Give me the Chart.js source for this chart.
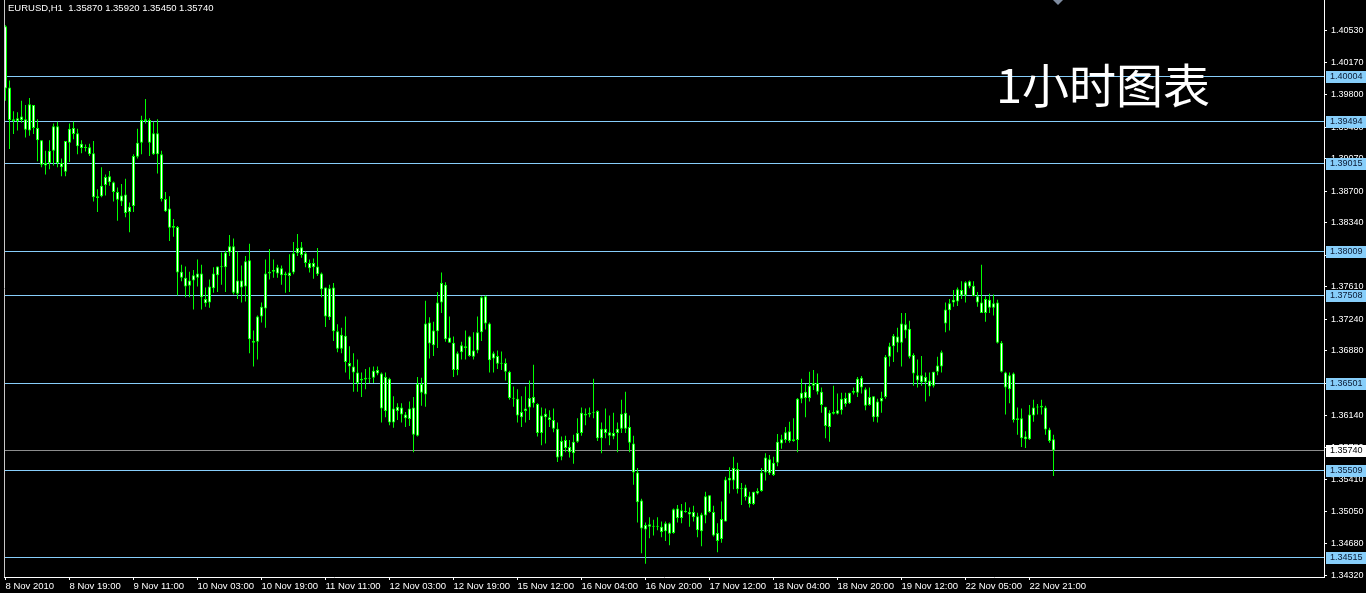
<!DOCTYPE html>
<html>
<head>
<meta charset="utf-8">
<script src="https://cdn.jsdelivr.net/npm/chart.js@4.4.1/dist/chart.umd.min.js"></script>
<style>
html,body{margin:0;padding:0;background:#000;overflow:hidden}
#wrap{width:1366px;height:593px}
canvas{display:block}
</style>
</head>
<body>
<div id="wrap"><canvas id="c" width="1366" height="593"></canvas></div>
<script>
// ---------- data (EURUSD H1) ----------
const symbolTitle = 'EURUSD,H1';
const watermarkText = '1小时图表';

const openP = [
1.4058,1.3988,1.3952,1.3950,1.3955,1.3952,1.3939,1.3968,1.3942,1.3928,
1.3899,1.3902,1.3916,1.3944,1.3902,1.3892,1.3925,1.3942,1.3936,1.3924,
1.3919,1.3920,1.3913,1.3864,1.3864,1.3877,1.3887,1.3880,1.3869,1.3858,
1.3866,1.3846,1.3853,1.3909,1.3925,1.3950,1.3951,1.3912,1.3936,1.3912,
1.3861,1.3850,1.3828,1.3829,1.3778,1.3771,1.3762,1.3768,1.3771,1.3776,
1.3747,1.3743,1.3759,1.3774,1.3784,1.3783,1.3800,1.3807,1.3753,1.3768,
1.3761,1.3791,1.3699,1.3698,1.3727,1.3736,1.3776,1.3778,1.3776,1.3782,
1.3774,1.3773,1.3777,1.3799,1.3806,1.3799,1.3788,1.3783,1.3784,1.3776,
1.3760,1.3726,1.3760,1.3710,1.3690,1.3705,1.3674,1.3670,1.3663,1.3654,
1.3655,1.3656,1.3657,1.3666,1.3662,1.3619,1.3656,1.3606,1.3624,1.3623,
1.3615,1.3610,1.3623,1.3591,1.3650,1.3638,1.3720,1.3694,1.3710,1.3743,
1.3763,1.3703,1.3697,1.3666,1.3686,1.3693,1.3682,1.3688,1.3688,1.3709,
1.3750,1.3719,1.3679,1.3682,1.3674,1.3674,1.3664,1.3634,1.3633,1.3612,
1.3619,1.3623,1.3635,1.3627,1.3594,1.3612,1.3612,1.3609,1.3599,1.3567,
1.3586,1.3578,1.3571,1.3584,1.3594,1.3616,1.3615,1.3617,1.3619,1.3588,
1.3599,1.3595,1.3590,1.3594,1.3599,1.3617,1.3601,1.3582,1.3549,1.3517,
1.3484,1.3490,1.3487,1.3488,1.3487,1.3482,1.3491,1.3480,1.3508,1.3497,
1.3505,1.3504,1.3498,1.3499,1.3482,1.3500,1.3523,1.3504,1.3480,1.3473,
1.3493,1.3540,1.3540,1.3553,1.3531,1.3532,1.3522,1.3513,1.3525,1.3528,
1.3549,1.3564,1.3546,1.3560,1.3582,1.3586,1.3596,1.3585,1.3586,1.3633,
1.3634,1.3634,1.3648,1.3651,1.3641,1.3624,1.3601,1.3616,1.3616,1.3620,
1.3634,1.3628,1.3640,1.3640,1.3657,1.3644,1.3626,1.3636,1.3612,1.3630,
1.3635,1.3681,1.3693,1.3704,1.3697,1.3718,1.3713,1.3683,1.3660,1.3652,
1.3658,1.3654,1.3648,1.3664,1.3670,1.3719,1.3734,1.3743,1.3744,1.3757,
1.3751,1.3767,1.3762,1.3750,1.3743,1.3731,1.3746,1.3737,1.3743,1.3697,
1.3663,1.3644,1.3662,1.3609,1.3611,1.3587,1.3587,1.3614,1.3623,1.3625,
1.3623,1.3598,1.35870
];

const highP = [
1.4059,1.3996,1.3961,1.3960,1.3973,1.3968,1.3976,1.3968,1.3952,1.3928,
1.3916,1.3928,1.3947,1.3949,1.3907,1.3927,1.3947,1.3949,1.3941,1.3928,
1.3923,1.3924,1.3927,1.3872,1.3897,1.3889,1.3893,1.3881,1.3874,1.3878,
1.3884,1.3857,1.3912,1.3941,1.3956,1.3975,1.3953,1.3949,1.3952,1.3916,
1.3869,1.3864,1.3838,1.3830,1.3786,1.3784,1.3778,1.3780,1.3792,1.3786,
1.3760,1.3769,1.3783,1.3784,1.3800,1.3802,1.3820,1.3816,1.3801,1.3785,
1.3796,1.3810,1.3711,1.3728,1.3743,1.3792,1.3804,1.3792,1.3786,1.3785,
1.3778,1.3798,1.3812,1.3821,1.3812,1.3801,1.3792,1.3793,1.3805,1.3777,
1.3760,1.3763,1.3765,1.3718,1.3714,1.3727,1.3693,1.3685,1.3678,1.3663,
1.3667,1.3669,1.3670,1.3670,1.3663,1.3663,1.3657,1.3636,1.3628,1.3628,
1.3618,1.3630,1.3635,1.3658,1.3657,1.3745,1.3726,1.3721,1.3755,1.3777,
1.3766,1.3727,1.3704,1.3687,1.3698,1.3711,1.3705,1.3709,1.3727,1.3750,
1.3751,1.3720,1.3687,1.3688,1.3687,1.3679,1.3665,1.3647,1.3644,1.3636,
1.3647,1.3654,1.3672,1.3628,1.3623,1.3622,1.3620,1.3622,1.3606,1.3590,
1.3591,1.3586,1.3592,1.3611,1.3623,1.3622,1.3623,1.3656,1.3620,1.3606,
1.3622,1.3614,1.3617,1.3606,1.3632,1.3641,1.3614,1.3591,1.3554,1.3519,
1.3492,1.3498,1.3495,1.3498,1.3493,1.3493,1.3492,1.3508,1.3512,1.3513,
1.3515,1.3509,1.3511,1.3503,1.3503,1.3527,1.3523,1.3511,1.3491,1.3516,
1.3544,1.3555,1.3567,1.3560,1.3537,1.3535,1.3527,1.3527,1.3531,1.3554,
1.3571,1.3569,1.3567,1.3593,1.3592,1.3601,1.3607,1.3611,1.3634,1.3656,
1.3650,1.3664,1.3666,1.3662,1.3646,1.3624,1.3620,1.3648,1.3639,1.3640,
1.3640,1.3640,1.3646,1.3658,1.3659,1.3646,1.3646,1.3636,1.3633,1.3641,
1.3683,1.3697,1.3707,1.3714,1.3731,1.3731,1.3722,1.3685,1.3678,1.3682,
1.3663,1.3663,1.3664,1.3681,1.3688,1.3743,1.3747,1.3757,1.3760,1.3767,
1.3767,1.3768,1.3767,1.3755,1.3786,1.3750,1.3753,1.3752,1.3746,1.3699,
1.3664,1.3663,1.3663,1.3623,1.3622,1.3596,1.3626,1.3632,1.3627,1.3632,
1.3625,1.3600,1.35920
];

const lowP = [
1.3973,1.3918,1.3935,1.3939,1.3948,1.3931,1.3933,1.3935,1.3904,1.3897,
1.3889,1.3895,1.3899,1.3897,1.3887,1.3887,1.3903,1.3929,1.3912,1.3913,
1.3915,1.3910,1.3858,1.3846,1.3863,1.3865,1.3876,1.3858,1.3836,1.3853,
1.3840,1.3823,1.3846,1.3907,1.3912,1.3947,1.3910,1.3911,1.3890,1.3858,
1.3846,1.3813,1.3818,1.3751,1.3767,1.3749,1.3749,1.3735,1.3761,1.3735,
1.3738,1.3737,1.3754,1.3755,1.3763,1.3755,1.3796,1.3752,1.3747,1.3743,
1.3744,1.3685,1.3670,1.3678,1.3720,1.3714,1.3769,1.3771,1.3771,1.3763,
1.3754,1.3755,1.3775,1.3796,1.3794,1.3783,1.3777,1.3770,1.3773,1.3749,
1.3715,1.3723,1.3699,1.3686,1.3685,1.3663,1.3655,1.3641,1.3641,1.3635,
1.3644,1.3651,1.3651,1.3660,1.3606,1.3612,1.3603,1.3600,1.3609,1.3606,
1.3601,1.3602,1.3572,1.3590,1.3625,1.3624,1.3679,1.3682,1.3691,1.3731,
1.3698,1.3697,1.3658,1.3660,1.3678,1.3678,1.3681,1.3678,1.3685,1.3699,
1.3712,1.3663,1.3663,1.3667,1.3666,1.3654,1.3632,1.3624,1.3606,1.3601,
1.3606,1.3609,1.3623,1.3590,1.3580,1.3582,1.3601,1.3595,1.3561,1.3563,
1.3572,1.3566,1.3559,1.3583,1.3591,1.3603,1.3612,1.3611,1.3585,1.3571,
1.3588,1.3580,1.3587,1.3572,1.3594,1.3594,1.3572,1.3535,1.3492,1.3457,
1.3445,1.3474,1.3477,1.3483,1.3475,1.3471,1.3466,1.3479,1.3492,1.3491,
1.3503,1.3487,1.3493,1.3475,1.3465,1.3491,1.3503,1.3476,1.3458,1.3469,
1.3493,1.3525,1.3530,1.3525,1.3512,1.3517,1.3509,1.3512,1.3524,1.3527,
1.3540,1.3546,1.3545,1.3556,1.3576,1.3583,1.3583,1.3584,1.3572,1.3628,
1.3612,1.3630,1.3643,1.3638,1.3617,1.3588,1.3584,1.3615,1.3615,1.3615,
1.3624,1.3627,1.3638,1.3635,1.3639,1.3620,1.3625,1.3607,1.3606,1.3617,
1.3633,1.3670,1.3675,1.3686,1.3670,1.3702,1.3679,1.3648,1.3646,1.3648,
1.3630,1.3636,1.3646,1.3660,1.3663,1.3709,1.3711,1.3738,1.3739,1.3747,
1.3743,1.3759,1.3750,1.3738,1.3731,1.3721,1.3731,1.3728,1.3696,1.3663,
1.3615,1.3628,1.3606,1.3592,1.3578,1.3577,1.3586,1.3607,1.3615,1.3615,
1.3592,1.3583,1.35450
];

const closeP = [
1.3987,1.3951,1.3950,1.3953,1.3951,1.3940,1.3969,1.3942,1.3928,1.3900,
1.3902,1.3916,1.3944,1.3902,1.3897,1.3927,1.3941,1.3935,1.3921,1.3919,
1.3920,1.3912,1.3863,1.3862,1.3876,1.3886,1.3880,1.3869,1.3860,1.3865,
1.3845,1.3852,1.3910,1.3925,1.3951,1.3952,1.3925,1.3936,1.3912,1.3861,
1.3847,1.3828,1.3830,1.3777,1.3771,1.3761,1.3768,1.3774,1.3776,1.3749,
1.3742,1.3761,1.3776,1.3784,1.3783,1.3800,1.3807,1.3754,1.3768,1.3760,
1.3790,1.3701,1.3697,1.3727,1.3738,1.3776,1.3778,1.3780,1.3783,1.3774,
1.3776,1.3777,1.3799,1.3805,1.3797,1.3788,1.3782,1.3788,1.3775,1.3758,
1.3727,1.3759,1.3710,1.3690,1.3706,1.3675,1.3670,1.3663,1.3651,1.3656,
1.3657,1.3657,1.3665,1.3662,1.3622,1.3658,1.3606,1.3622,1.3619,1.3615,
1.3611,1.3622,1.3592,1.3650,1.3640,1.3719,1.3696,1.3711,1.3743,1.3765,
1.3701,1.3697,1.3666,1.3685,1.3694,1.3691,1.3704,1.3681,1.3709,1.3749,
1.3719,1.3677,1.3685,1.3673,1.3673,1.3664,1.3634,1.3633,1.3614,1.3618,
1.3622,1.3634,1.3628,1.3594,1.3614,1.3616,1.3609,1.3599,1.3566,1.3585,
1.3577,1.3572,1.3584,1.3594,1.3617,1.3614,1.3617,1.3618,1.3588,1.3599,
1.3594,1.3591,1.3594,1.3599,1.3616,1.3599,1.3583,1.3549,1.3515,1.3485,
1.3489,1.3487,1.3488,1.3487,1.3481,1.3491,1.3479,1.3507,1.3497,1.3506,
1.3504,1.3501,1.3504,1.3483,1.3501,1.3522,1.3504,1.3477,1.3471,1.3496,
1.3541,1.3543,1.3554,1.3530,1.3530,1.3521,1.3513,1.3527,1.3528,1.3549,
1.3566,1.3548,1.3560,1.3584,1.3587,1.3595,1.3585,1.3587,1.3633,1.3640,
1.3641,1.3648,1.3651,1.3641,1.3626,1.3602,1.3617,1.3618,1.3620,1.3633,
1.3627,1.3640,1.3642,1.3656,1.3646,1.3625,1.3635,1.3612,1.3630,1.3634,
1.3681,1.3693,1.3705,1.3697,1.3719,1.3711,1.3681,1.3662,1.3654,1.3660,
1.3652,1.3647,1.3664,1.3671,1.3686,1.3735,1.3742,1.3746,1.3758,1.3751,
1.3766,1.3761,1.3750,1.3743,1.3731,1.3747,1.3737,1.3742,1.3697,1.3664,
1.3646,1.3660,1.3609,1.3611,1.3588,1.3590,1.3615,1.3623,1.3624,1.3623,
1.3598,1.3585,1.35740
];

// price-axis tick labels
const priceTicks = [1.40530,1.40170,1.39800,1.39430,1.39070,1.38700,1.38340,1.37970,1.37610,
                    1.37240,1.36880,1.36510,1.36140,1.35780,1.35410,1.35050,1.34680,1.34320];
// horizontal level lines
const levelLines = [1.40004,1.39494,1.39015,1.38009,1.37508,1.36501,1.35509,1.34515];
// time-axis tick labels and the bar each one sits on
const timeTickBars = [0,16,32,48,64,80,96,112,128,144,160,176,192,208,224,240,256];
const timeTickLabels = ['8 Nov 2010','8 Nov 19:00','9 Nov 11:00','10 Nov 03:00','10 Nov 19:00',
  '11 Nov 11:00','12 Nov 03:00','12 Nov 19:00','15 Nov 12:00','16 Nov 04:00','16 Nov 20:00',
  '17 Nov 12:00','18 Nov 04:00','18 Nov 20:00','19 Nov 12:00','22 Nov 05:00','22 Nov 21:00'];

// visible ranges of the two axes
const priceMax = 1.40879, priceMin = 1.34298;
const barMin = -0.375, barMax = 329.625;

// ---------- chart ----------
const LIME = '#00ff00';
const LEVEL = '#87cefa';
const FONT = '"Liberation Sans", Arial, sans-serif';
const idx = openP.map((_, i) => i);

const overlay = {
  id: 'overlay',
  beforeDatasetsDraw(chart) {
    const {ctx, chartArea: a, scales: {y}} = chart;
    ctx.save();
    ctx.lineWidth = 1;
    ctx.strokeStyle = LEVEL;
    levelLines.forEach(v => {
      const py = Math.floor(y.getPixelForValue(v)) + 0.5;
      ctx.beginPath(); ctx.moveTo(a.left, py); ctx.lineTo(a.right, py); ctx.stroke();
    });
    const bid = closeP[closeP.length - 1];
    const by = Math.floor(y.getPixelForValue(bid)) + 0.5;
    ctx.strokeStyle = '#8c8c8c';
    ctx.beginPath(); ctx.moveTo(a.left, by); ctx.lineTo(a.right, by); ctx.stroke();
    ctx.restore();
  },
  afterDraw(chart) {
    const {ctx, chartArea: a, scales: {y}} = chart;
    ctx.save();
    // left frame line
    ctx.strokeStyle = '#c8c8c8';
    ctx.lineWidth = 1;
    ctx.beginPath(); ctx.moveTo(a.left + 0.5, a.top); ctx.lineTo(a.left + 0.5, a.bottom); ctx.stroke();

    // axis value boxes
    ctx.font = '9px ' + FONT;
    ctx.textBaseline = 'middle';
    ctx.textAlign = 'left';
    const box = (v, bg, fg) => {
      const py = Math.floor(y.getPixelForValue(v));
      ctx.fillStyle = bg;
      ctx.fillRect(a.right + 2, py - 5, 40, 12);
      ctx.fillStyle = fg;
      ctx.fillText(v.toFixed(5), a.right + 6, py + 1);
    };
    levelLines.forEach(v => box(v, LEVEL, '#0a1a33'));
    box(closeP[closeP.length - 1], '#ffffff', '#000000');

    // header text
    const n = openP.length - 1;
    ctx.fillStyle = '#ffffff';
    ctx.font = '9.5px ' + FONT;
    ctx.fillText(symbolTitle + '  ' + [openP[n], highP[n], lowP[n], closeP[n]].map(v => v.toFixed(5)).join(' '), 8, 8);

    // big caption
    ctx.font = '47px "Noto Sans CJK SC", sans-serif';
    ctx.textBaseline = 'alphabetic';
    ctx.fillText(watermarkText, 996, 103);

    // small grey marker at the top edge
    ctx.fillStyle = '#7f8ca0';
    ctx.beginPath(); ctx.moveTo(1053, 0); ctx.lineTo(1063, 0); ctx.lineTo(1058, 5); ctx.closePath(); ctx.fill();
    ctx.restore();
  }
};

new Chart(document.getElementById('c'), {
  type: 'bar',
  data: {
    datasets: [
      {
        label: 'range',
        data: idx.map(i => ({x: i, y: [lowP[i], highP[i]]})),
        backgroundColor: LIME,
        borderWidth: 0,
        barThickness: 1,
        grouped: false,
        inflateAmount: 0,
        order: 2
      },
      {
        label: 'body',
        data: idx.map(i => ({x: i, y: [openP[i], closeP[i]]})),
        backgroundColor: '#ffffff',
        borderColor: LIME,
        borderWidth: 1,
        borderSkipped: false,
        barThickness: 3,
        minBarLength: 1,
        grouped: false,
        inflateAmount: 0,
        order: 1
      }
    ]
  },
  options: {
    responsive: false,
    devicePixelRatio: 1,
    animation: false,
    events: [],
    layout: {padding: {left: 4, top: 0, right: 0, bottom: 0}},
    plugins: {legend: {display: false}, tooltip: {enabled: false}},
    scales: {
      x: {
        type: 'linear',
        position: 'bottom',
        min: barMin,
        max: barMax,
        offset: false,
        grid: {display: true, drawOnChartArea: false, drawTicks: true, tickLength: 3, tickColor: '#ffffff', offset: false},
        border: {display: true, color: '#ffffff', width: 1},
        ticks: {
          color: '#ffffff',
          font: {family: FONT, size: 9.5},
          align: 'start',
          maxRotation: 0,
          autoSkip: false,
          padding: 1,
          callback: v => { const k = timeTickBars.indexOf(v); return k >= 0 ? timeTickLabels[k] : ''; }
        },
        afterBuildTicks: s => { s.ticks = timeTickBars.map(v => ({value: v})); },
        afterFit: s => { s.height = 16; s.paddingLeft = 0; s.paddingRight = 0; }
      },
      y: {
        type: 'linear',
        position: 'right',
        min: priceMin,
        max: priceMax,
        bounds: 'data',
        grid: {display: true, drawOnChartArea: false, drawTicks: true, tickLength: 3, tickColor: '#ffffff'},
        border: {display: true, color: '#ffffff', width: 1},
        ticks: {
          color: '#ffffff',
          font: {family: FONT, size: 9},
          padding: 4,
          autoSkip: false,
          callback: v => Number(v).toFixed(5)
        },
        afterBuildTicks: s => { s.ticks = priceTicks.map(v => ({value: v})); },
        afterFit: s => { s.width = 42; s.paddingTop = 0; s.paddingBottom = 0; }
      }
    }
  },
  plugins: [overlay]
});
</script>
</body>
</html>
